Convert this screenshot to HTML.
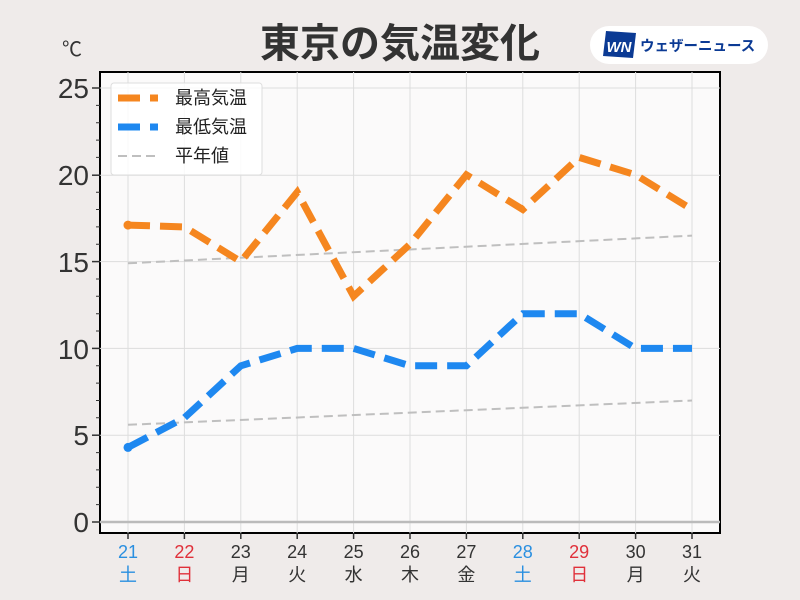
<!DOCTYPE html><html><head><meta charset="utf-8"><style>body{margin:0;background:#efebea;}svg{display:block}text{font-family:"Liberation Sans","Noto Sans CJK JP",sans-serif}</style></head><body>
<svg width="800" height="600" viewBox="0 0 800 600">
<rect width="800" height="600" fill="#efebea"/>
<text x="400" y="57" text-anchor="middle" font-size="40" font-weight="bold" fill="#333">東京の気温変化</text>
<rect x="590" y="26" width="178" height="38" rx="19" fill="#fff"/>
<polygon points="606,31 636,33 633,58 603,56" fill="#0b3a94"/>
<text x="619" y="52" text-anchor="middle" font-size="15" font-weight="bold" font-style="italic" fill="#fff">WN</text>
<text x="640" y="51" font-size="14.5" font-weight="bold" fill="#0b3a94">ウェザーニュース</text>
<text x="62" y="56" font-size="20" fill="#333">℃</text>
<rect x="100" y="72" width="620" height="461" fill="#fbfafa" stroke="#000" stroke-width="2"/>
<g stroke="#ddd" stroke-width="1">
<line x1="128" y1="72" x2="128" y2="533"/><line x1="184.4" y1="72" x2="184.4" y2="533"/><line x1="240.8" y1="72" x2="240.8" y2="533"/><line x1="297.2" y1="72" x2="297.2" y2="533"/><line x1="353.6" y1="72" x2="353.6" y2="533"/><line x1="410" y1="72" x2="410" y2="533"/><line x1="466.4" y1="72" x2="466.4" y2="533"/><line x1="522.8" y1="72" x2="522.8" y2="533"/><line x1="579.2" y1="72" x2="579.2" y2="533"/><line x1="635.6" y1="72" x2="635.6" y2="533"/><line x1="692" y1="72" x2="692" y2="533"/>
<line x1="100" y1="88" x2="720" y2="88"/><line x1="100" y1="175.2" x2="720" y2="175.2"/><line x1="100" y1="261.6" x2="720" y2="261.6"/><line x1="100" y1="348.4" x2="720" y2="348.4"/><line x1="100" y1="435.2" x2="720" y2="435.2"/>
</g>
<line x1="100" y1="522" x2="720" y2="522" stroke="#bbb" stroke-width="2.5"/>
<g stroke="#333" stroke-width="1.5">
<line x1="92" y1="88" x2="100" y2="88"/><line x1="92" y1="175.2" x2="100" y2="175.2"/><line x1="92" y1="261.6" x2="100" y2="261.6"/><line x1="92" y1="348.4" x2="100" y2="348.4"/><line x1="92" y1="435.2" x2="100" y2="435.2"/><line x1="92" y1="522" x2="100" y2="522"/>
</g>
<g stroke="#333" stroke-width="1">
<path d="M96 105.4H100M96 122.7H100M96 140.1H100M96 157.4H100M96 192.2H100M96 209.5H100M96 226.9H100M96 244.2H100M96 279H100M96 296.3H100M96 313.7H100M96 331H100M96 365.8H100M96 383.1H100M96 400.5H100M96 417.8H100M96 452.6H100M96 469.9H100M96 487.3H100M96 504.6H100"/>
</g>
<g font-size="28" fill="#333" text-anchor="end">
<text x="89" y="98">25</text><text x="89" y="185">20</text><text x="89" y="272">15</text><text x="89" y="359">10</text><text x="89" y="445">5</text><text x="89" y="532">0</text>
</g>
<g stroke="#333" stroke-width="1.5"><path d="M128 533v6M184.4 533v6M240.8 533v6M297.2 533v6M353.6 533v6M410 533v6M466.4 533v6M522.8 533v6M579.2 533v6M635.6 533v6M692 533v6"/></g>
<g font-size="18" text-anchor="middle" fill="#333">
<text x="128" y="558" fill="#2a8fe0">21</text><text x="184.4" y="558" fill="#e0303a">22</text><text x="240.8" y="558">23</text><text x="297.2" y="558">24</text><text x="353.6" y="558">25</text><text x="410" y="558">26</text><text x="466.4" y="558">27</text><text x="522.8" y="558" fill="#2a8fe0">28</text><text x="579.2" y="558" fill="#e0303a">29</text><text x="635.6" y="558">30</text><text x="692" y="558">31</text>
<text x="128" y="581" fill="#2a8fe0">土</text><text x="184.4" y="581" fill="#e0303a">日</text><text x="240.8" y="581">月</text><text x="297.2" y="581">火</text><text x="353.6" y="581">水</text><text x="410" y="581">木</text><text x="466.4" y="581">金</text><text x="522.8" y="581" fill="#2a8fe0">土</text><text x="579.2" y="581" fill="#e0303a">日</text><text x="635.6" y="581">月</text><text x="692" y="581">火</text>
</g>
<g stroke="#bfbfbf" stroke-width="2" stroke-dasharray="9,5" fill="none">
<line x1="128" y1="263.3" x2="692" y2="235.6"/>
<line x1="128" y1="424.8" x2="692" y2="400.5"/>
</g>
<polyline fill="none" stroke="#f5861f" stroke-width="7" stroke-dasharray="22,10" points="128,225.1 184.4,226.9 240.8,261.6 297.2,192.2 353.6,296.3 410,244.2 466.4,174.8 522.8,209.5 579.2,157.4 635.6,174.8 692,209.5"/>
<circle cx="128" cy="225.1" r="4.5" fill="#f5861f"/>
<polyline fill="none" stroke="#1e88f0" stroke-width="7" stroke-dasharray="22,10" points="128,447.4 184.4,417.8 240.8,365.8 297.2,348.4 353.6,348.4 410,365.8 466.4,365.8 522.8,313.7 579.2,313.7 635.6,348.4 692,348.4"/>
<circle cx="128" cy="447.4" r="4.5" fill="#1e88f0"/>
<rect x="111" y="83" width="151" height="92" rx="3" fill="#fff" fill-opacity="0.85" stroke="#ddd"/>
<line x1="118" y1="98" x2="158" y2="98" stroke="#f5861f" stroke-width="7" stroke-dasharray="22,10"/>
<line x1="118" y1="127" x2="158" y2="127" stroke="#1e88f0" stroke-width="7" stroke-dasharray="22,10"/>
<line x1="118" y1="156" x2="158" y2="156" stroke="#bfbfbf" stroke-width="2" stroke-dasharray="9,5"/>
<g font-size="18" fill="#222"><text x="175" y="104">最高気温</text><text x="175" y="133">最低気温</text><text x="175" y="162">平年値</text></g>
</svg></body></html>
